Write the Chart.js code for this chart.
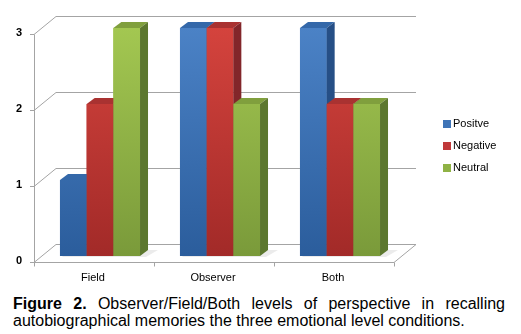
<!DOCTYPE html>
<html>
<head>
<meta charset="utf-8">
<script src="https://cdn.jsdelivr.net/npm/chart.js@4.4.0/dist/chart.umd.min.js"></script>
<style>
  html, body { margin: 0; padding: 0; background: #fff; }
  #wrap { position: relative; width: 521px; height: 334px; }
  #perspChart { display: block; }
  #caption {
    position: absolute; left: 13px; top: 295px; width: 492px;
    font-family: "Liberation Sans", Arial, sans-serif; font-size: 16px; line-height: 17px;
    text-align: justify; text-align-last: left; color: #000;
  }
</style>
</head>
<body>
<div id="wrap">
  <canvas id="perspChart" width="521" height="290"></canvas>
  <div id="caption"><b>Figure 2.</b> Observer/Field/Both levels of perspective in recalling autobiographical memories the three emotional level conditions.</div>
</div>
<script>
// data
const categories = ['Field', 'Observer', 'Both'];
const seriesNames = ['Positve', 'Negative', 'Neutral'];
const positive = [1, 3, 3];
const negative = [2, 3, 2];
const neutral = [3, 2, 2];
const yTicks = [0, 1, 2, 3];

// styles for the fake 3d look
const palette = [
    {light: '#4b82c6', dark: '#2b5d9c', top: '#3468a9', side: '#264f86', legend: '#3f74b7'},
    {light: '#d4433d', dark: '#a22a28', top: '#a93231', side: '#82262a', legend: '#c0393a'},
    {light: '#a3c751', dark: '#7a9a3a', top: '#809f3d', side: '#5c772e', legend: '#8fb245'}
];
const FRONT = {dx: -6, dy: 6};
const BACK = {dx: 16, dy: -12};
const BAR = {dx: 8, dy: -6};

function frontGradient(chart, c) {
    const ca = chart.chartArea;
    if (!ca) return c.light;
    let g = chart.ctx.createLinearGradient(0, ca.top, 0, ca.bottom);
    g.addColorStop(0, c.light);
    g.addColorStop(1, c.dark);
    return g;
}

function line(ctx, x1, y1, x2, y2) {
    ctx.beginPath();
    ctx.moveTo(x1, y1);
    ctx.lineTo(x2, y2);
    ctx.stroke();
}

function poly(ctx, pts, fill) {
    ctx.beginPath();
    ctx.moveTo(pts[0][0], pts[0][1]);
    for (let k = 1; k < pts.length; k++) ctx.lineTo(pts[k][0], pts[k][1]);
    ctx.closePath();
    ctx.fillStyle = fill;
    ctx.fill();
}

const depth3d = {
    id: 'depth3d',
    beforeDatasetsDraw(chart) {
        const ctx = chart.ctx, ca = chart.chartArea, y = chart.scales.y;
        const fL = ca.left + FRONT.dx, fR = ca.right + FRONT.dx;
        const bL = ca.left + BACK.dx, bR = ca.right + BACK.dx;
        ctx.save();
        ctx.strokeStyle = '#a4a4a4';
        ctx.lineWidth = 1;
        yTicks.forEach(v => {
            const py = y.getPixelForValue(v);
            const yf = Math.round(py + FRONT.dy) + 0.5;
            const yb = Math.round(py + BACK.dy) + 0.5;
            line(ctx, fL, yf, bL, yb);
            line(ctx, bL, yb, bR, yb);
            line(ctx, fL - 4, yf, fL, yf);
        });
        const y0f = Math.round(y.getPixelForValue(0) + FRONT.dy) + 0.5;
        const yTopf = Math.round(y.getPixelForValue(yTicks[yTicks.length - 1]) + FRONT.dy) + 0.5;
        const y0b = Math.round(y.getPixelForValue(0) + BACK.dy) + 0.5;
        line(ctx, fL + 0.5, yTopf, fL + 0.5, y0f);
        line(ctx, fL, y0f, fR, y0f);
        line(ctx, fR, y0f, bR, y0b);
        const step = ca.width / categories.length;
        for (let i = 0; i <= categories.length; i++) {
            const px = Math.round(fL + i * step) + 0.5;
            line(ctx, px, y0f, px, y0f + 4);
        }
        // soft shadow of the bar groups on the floor
        for (let j = 0; j < categories.length; j++) {
            const first = chart.getDatasetMeta(0).data[j];
            const last = chart.getDatasetMeta(chart.data.datasets.length - 1).data[j];
            const xl = first.x - first.width / 2, xr = last.x + last.width / 2;
            const yb = first.base;
            poly(ctx, [[xl + 2, yb + 1], [xr + 6, yb + 1], [xr + BAR.dx + 10, yb + BAR.dy], [xl + BAR.dx, yb + BAR.dy]], 'rgba(0,0,0,0.08)');
        }
        ctx.restore();
    },
    afterDatasetsDraw(chart) {
        const ctx = chart.ctx;
        ctx.save();
        for (let j = 0; j < categories.length; j++) {
            chart.data.datasets.forEach((ds, i) => {
                const el = chart.getDatasetMeta(i).data[j];
                const c = palette[i];
                const l = el.x - el.width / 2, r = el.x + el.width / 2;
                const t = el.y, b = el.base;
                poly(ctx, [[l, t], [r, t], [r, b], [l, b]], frontGradient(chart, c));
                poly(ctx, [[l, t], [r, t], [r + BAR.dx, t + BAR.dy], [l + BAR.dx, t + BAR.dy]], c.top);
                poly(ctx, [[r, t], [r + BAR.dx, t + BAR.dy], [r + BAR.dx, b + BAR.dy], [r, b]], c.side);
            });
        }
        ctx.restore();
    },
    afterDraw(chart) {
        const ctx = chart.ctx;
        ctx.save();
        ctx.font = '11px "Liberation Sans", Arial, sans-serif';
        ctx.textBaseline = 'middle';
        chart.data.datasets.forEach((ds, i) => {
            const ly = 124 + i * 22;
            ctx.fillStyle = palette[i].legend;
            ctx.fillRect(443, ly - 4, 8, 8);
            ctx.fillStyle = '#000';
            ctx.fillText(ds.label, 453, ly);
        });
        ctx.restore();
    }
};

function buildChart() {
    const series = [positive, negative, neutral];
    const ctxC = document.getElementById('perspChart').getContext('2d');
    new Chart(ctxC, {
        type: 'bar',
        data: {
            labels: categories,
            datasets: series.map((vals, i) => ({
                label: seriesNames[i],
                data: vals,
                backgroundColor: (c) => frontGradient(c.chart, palette[i]),
                borderWidth: 0,
                categoryPercentage: 0.667,
                barPercentage: 1.0
            }))
        },
        options: {
            responsive: false,
            animation: false,
            devicePixelRatio: 1,
            layout: {padding: {left: 0, top: 28, right: 121, bottom: 0}},
            plugins: {legend: {display: false}, tooltip: {enabled: false}},
            scales: {
                x: {
                    grid: {display: false, drawTicks: false},
                    border: {display: false},
                    ticks: {
                        padding: 15, labelOffset: -7, color: '#000',
                        font: {family: '"Liberation Sans", Arial, sans-serif', size: 11}
                    },
                    afterFit: (s) => { s.height = 34; }
                },
                y: {
                    min: 0, max: 3,
                    grid: {display: false, drawTicks: false},
                    border: {display: false},
                    ticks: {
                        stepSize: 1, padding: 18, labelOffset: 5, color: '#000',
                        font: {family: '"Liberation Sans", Arial, sans-serif', size: 11, weight: 'bold'}
                    },
                    afterFit: (s) => { s.width = 40; }
                }
            }
        },
        plugins: [depth3d]
    });
}

buildChart();
</script>
</body>
</html>
